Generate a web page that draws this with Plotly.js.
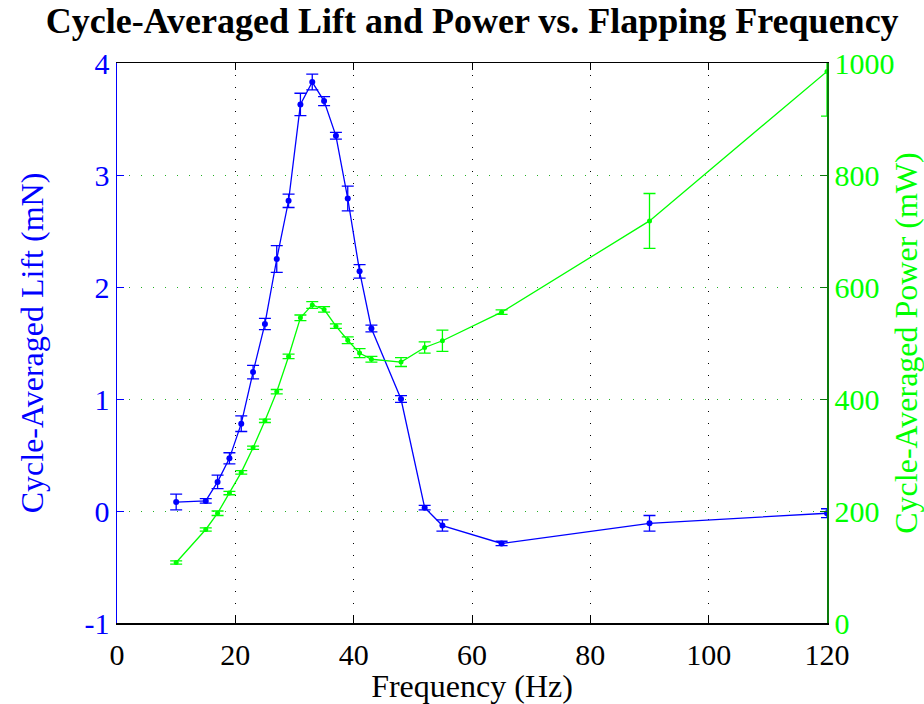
<!DOCTYPE html>
<html>
<head>
<meta charset="utf-8">
<script src="https://cdn.plot.ly/plotly-3.0.1.min.js"></script>
<style>html,body{margin:0;padding:0;background:#fff;}#chart{width:924px;height:704px;}</style>
</head>
<body>
<div id="chart"></div>
<script>
const freq = [10,15,17,19,21,23,25,27,29,31,33,35,37,39,41,43,48,52,55,65,90,120];
const lift = [0.08,0.09,0.26,0.47,0.78,1.24,1.67,2.25,2.77,3.63,3.83,3.66,3.35,2.79,2.14,1.63,1.00,0.03,-0.13,-0.29,-0.11,-0.02];
const liftErr = [0.07,0.02,0.06,0.05,0.07,0.06,0.05,0.12,0.06,0.10,0.07,0.04,0.03,0.11,0.06,0.03,0.03,0.02,0.05,0.02,0.07,0.04];
const power = [108,167,196,232,269,313,361,413,476,545,568,560,530,505,482,471,466,492,504,555,718,985];
const powerErr = [3,3,4,3,3,3,3,4,4,5,6,5,4,6,8,5,8,10,19,4,49,80];
const xTicks = [0,20,40,60,80,100,120];
const liftTicks = [-1,0,1,2,3,4];
const powerTicks = [0,200,400,600,800,1000];

const BLUE = '#0000ff', GREEN = '#00ff00', FONT = '"Liberation Serif", "Times New Roman", serif';

const traces = [
  {x: freq, y: lift, type: 'scatter', mode: 'lines+markers', yaxis: 'y',
   line: {color: BLUE, width: 1.3}, marker: {color: BLUE, size: 6},
   error_y: {type: 'data', array: liftErr, visible: true, color: BLUE, thickness: 1.3, width: 6},
   cliponaxis: true, showlegend: false},
  {x: freq, y: power, type: 'scatter', mode: 'lines+markers', yaxis: 'y2',
   line: {color: GREEN, width: 1.3}, marker: {color: GREEN, size: 5},
   error_y: {type: 'data', array: powerErr, visible: true, color: GREEN, thickness: 1.3, width: 6},
   cliponaxis: true, showlegend: false}
];

const layout = {
  width: 924, height: 704,
  margin: {l: 117, r: 97, t: 63, b: 81},
  paper_bgcolor: '#fff', plot_bgcolor: '#fff',
  font: {family: FONT, size: 30, color: '#000'},
  title: {text: '<b>Cycle-Averaged Lift and Power vs. Flapping Frequency</b>',
          font: {family: FONT, size: 36, color: '#000'},
          x: 0.511, xanchor: 'center', y: 0.971, yanchor: 'middle', yref: 'container'},
  xaxis: {range: [0, 120], tickvals: xTicks, ticktext: xTicks.map(String),
          showline: true, linecolor: '#000', linewidth: 1.5, mirror: 'ticks',
          ticks: 'inside', ticklen: 7, tickcolor: '#000', tickwidth: 1,
          ticklabelstandoff: 4,
          showgrid: true, gridcolor: '#000', griddash: '1px,11px', gridwidth: 1,
          zeroline: false, tickfont: {family: FONT, size: 30, color: '#000'},
          title: {text: 'Frequency (Hz)', font: {family: FONT, size: 32, color: '#000'}}},
  yaxis: {range: [-1, 4], tickvals: liftTicks, ticktext: liftTicks.map(String),
          showline: true, linecolor: BLUE, linewidth: 1.5,
          ticks: 'inside', ticklen: 7, tickcolor: BLUE, tickwidth: 1,
          showgrid: false, zeroline: false,
          tickfont: {family: FONT, size: 30, color: BLUE},
          title: {text: 'Cycle-Averaged Lift (mN)', font: {family: FONT, size: 32, color: BLUE}}},
  yaxis2: {range: [0, 1000], tickvals: powerTicks, ticktext: powerTicks.map(String),
           overlaying: 'y', side: 'right',
           showline: true, linecolor: '#0a7a0a', linewidth: 1.5,
           ticks: 'inside', ticklen: 7, tickcolor: '#0a7a0a', tickwidth: 1,
           showgrid: true, gridcolor: '#22b022', griddash: '1px,11px', gridwidth: 1,
           zeroline: false,
           tickfont: {family: FONT, size: 30, color: GREEN},
           title: {text: 'Cycle-Averaged Power (mW)', font: {family: FONT, size: 32, color: GREEN}}}
};

Plotly.newPlot('chart', traces, layout, {staticPlot: true, displayModeBar: false});
</script>
</body>
</html>
